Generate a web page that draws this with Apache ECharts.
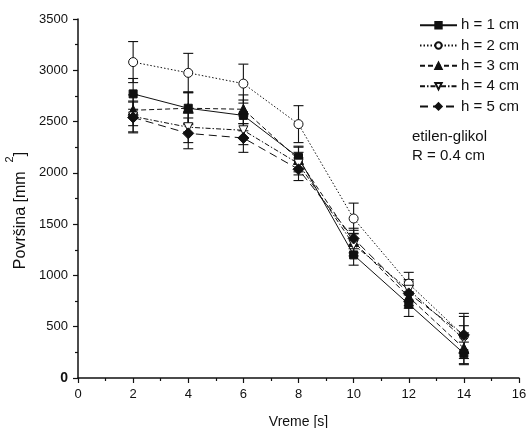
<!DOCTYPE html>
<html>
<head>
<meta charset="utf-8">
<script src="https://cdn.jsdelivr.net/npm/echarts@6/dist/echarts.min.js"></script>
<style>
  html, body { margin: 0; padding: 0; background: #fff; }
  #chart { width: 526px; height: 428px; }
</style>
</head>
<body>
<div id="chart"></div>
<script>
// Time points [s]
const times = [2, 4, 6, 8, 10, 12, 14];

// Surface area [mm^2] for each immersion depth h
const seriesNames = ['h = 1 cm', 'h = 2 cm', 'h = 3 cm', 'h = 4 cm', 'h = 5 cm'];
const h1 = [2770, 2630, 2560, 2150, 1200, 720, 240];
const h2 = [3080, 2975, 2870, 2475, 1555, 920, 410];
const h3 = [2610, 2630, 2620, 2130, 1330, 790, 290];
const h4 = [2550, 2445, 2415, 2090, 1300, 860, 380];
const h5 = [2540, 2385, 2340, 2035, 1360, 825, 420];

// Standard deviations (error bar half-heights)
const e1 = [150, 160, 150, 110, 100, 120, 110];
const e2 = [200, 190, 190, 180, 150, 110, 220];
const e3 = [150, 150, 140, 120, 110, 110, 150];
const e4 = [150, 150, 140, 110, 110, 100, 130];
const e5 = [150, 150, 140, 110, 100, 120, 180];

// Axis ticks
const xTicks = [0, 2, 4, 6, 8, 10, 12, 14, 16];
const yTicks = [0, 500, 1000, 1500, 2000, 2500, 3000, 3500];

const FONT = 'Liberation Sans, Arial, sans-serif';
const INK = '#111';

const values = [h1, h2, h3, h4, h5];
const errors = [e1, e2, e3, e4, e5];

const styles = [
  { symbol: 'rect', symbolSize: 8, fill: INK, dash: 'solid' },
  { symbol: 'circle', symbolSize: 9, fill: '#fff', dash: [1.5, 2] },
  { symbol: 'triangle', symbolSize: 10, fill: INK, dash: [5, 3] },
  { symbol: 'path://M0,0 L10,0 L5,9 Z', symbolSize: 9, fill: '#fff', dash: [5, 2, 1.5, 2] },
  { symbol: 'diamond', symbolSize: 11, fill: INK, dash: [8, 5] }
];

function errorBarRenderer(params, api) {
  const x = api.value(0);
  const top = api.coord([x, api.value(2)]);
  const bot = api.coord([x, api.value(1)]);
  const half = 5;
  const st = { stroke: INK, lineWidth: 1.1 };
  return {
    type: 'group',
    children: [
      { type: 'line', shape: { x1: top[0], y1: top[1], x2: bot[0], y2: bot[1] }, style: st },
      { type: 'line', shape: { x1: top[0] - half, y1: top[1], x2: top[0] + half, y2: top[1] }, style: st },
      { type: 'line', shape: { x1: bot[0] - half, y1: bot[1], x2: bot[0] + half, y2: bot[1] }, style: st }
    ]
  };
}

const series = [];
values.forEach((vals, i) => {
  series.push({
    name: 'err' + i,
    type: 'custom',
    renderItem: errorBarRenderer,
    data: times.map((t, k) => [t, vals[k] - errors[i][k], vals[k] + errors[i][k]]),
    z: 1,
    silent: true
  });
});
values.forEach((vals, i) => {
  const s = styles[i];
  series.push({
    name: seriesNames[i],
    type: 'line',
    data: times.map((t, k) => [t, vals[k]]),
    symbol: s.symbol,
    symbolSize: s.symbolSize,
    showAllSymbol: true,
    lineStyle: { color: INK, width: 1, type: s.dash },
    itemStyle: { color: s.fill, borderColor: INK, borderWidth: 1 },
    z: 3 + i,
    animation: false
  });
});

const chart = echarts.init(document.getElementById('chart'), null, { renderer: 'canvas' });
chart.setOption({
  animation: false,
  backgroundColor: '#fff',
  textStyle: { fontFamily: FONT },
  grid: { left: 78, right: 7, top: 19, bottom: 50, containLabel: false, outerBoundsMode: 'none' },
  xAxis: {
    type: 'value',
    min: xTicks[0],
    max: xTicks[xTicks.length - 1],
    interval: 2,
    name: 'Vreme [s]',
    nameLocation: 'middle',
    nameGap: 37,
    nameTextStyle: { fontSize: 14, color: INK, fontFamily: FONT },
    axisLine: { lineStyle: { color: INK, width: 1.5 } },
    axisTick: { show: true, inside: false, length: 5, lineStyle: { color: INK, width: 1.2 } },
    minorTick: { show: true, splitNumber: 2, length: 3, lineStyle: { color: INK, width: 1.2 } },
    axisLabel: { fontSize: 13, color: INK, margin: 10, fontFamily: FONT },
    splitLine: { show: false }
  },
  yAxis: {
    type: 'value',
    min: yTicks[0],
    max: yTicks[yTicks.length - 1],
    interval: 500,
    name: '{t|Površina [mm  }{s|2}{t|]}',
    nameLocation: 'middle',
    nameGap: 49,
    nameRotate: 90,
    nameTextStyle: {
      color: INK,
      fontFamily: FONT,
      padding: [0, 24, 0, 0],
      rich: {
        t: { fontSize: 16, color: INK, fontFamily: FONT, lineHeight: 24, verticalAlign: 'bottom' },
        s: { fontSize: 11, color: INK, fontFamily: FONT, lineHeight: 24, verticalAlign: 'top' }
      }
    },
    axisLine: { show: true, lineStyle: { color: INK, width: 1.5 } },
    axisTick: { show: true, inside: false, length: 5, lineStyle: { color: INK, width: 1.2 } },
    minorTick: { show: true, splitNumber: 2, length: 3, lineStyle: { color: INK, width: 1.2 } },
    axisLabel: {
      fontSize: 13,
      color: INK,
      margin: 10,
      fontFamily: FONT,
      formatter: v => (v === 0 ? '{b|0}' : String(v)),
      rich: { b: { fontSize: 14, fontWeight: 'bold', color: INK, fontFamily: FONT } }
    },
    splitLine: { show: false }
  },
  legend: {
    data: seriesNames,
    orient: 'vertical',
    left: 419,
    top: 17,
    itemWidth: 37,
    itemHeight: 8,
    itemGap: 3.8,
    padding: 0,
    textStyle: { fontSize: 15, color: INK, fontFamily: FONT, lineHeight: 16.5, padding: [0, 0, 0, -1] },
    inactiveColor: '#999'
  },
  graphic: [
    {
      type: 'text',
      left: 412,
      top: 127,
      style: { text: 'etilen-glikol\nR = 0.4 cm', fontSize: 15, lineHeight: 19.5, fill: INK, fontFamily: FONT }
    }
  ],
  series: series
});
</script>
</body>
</html>
